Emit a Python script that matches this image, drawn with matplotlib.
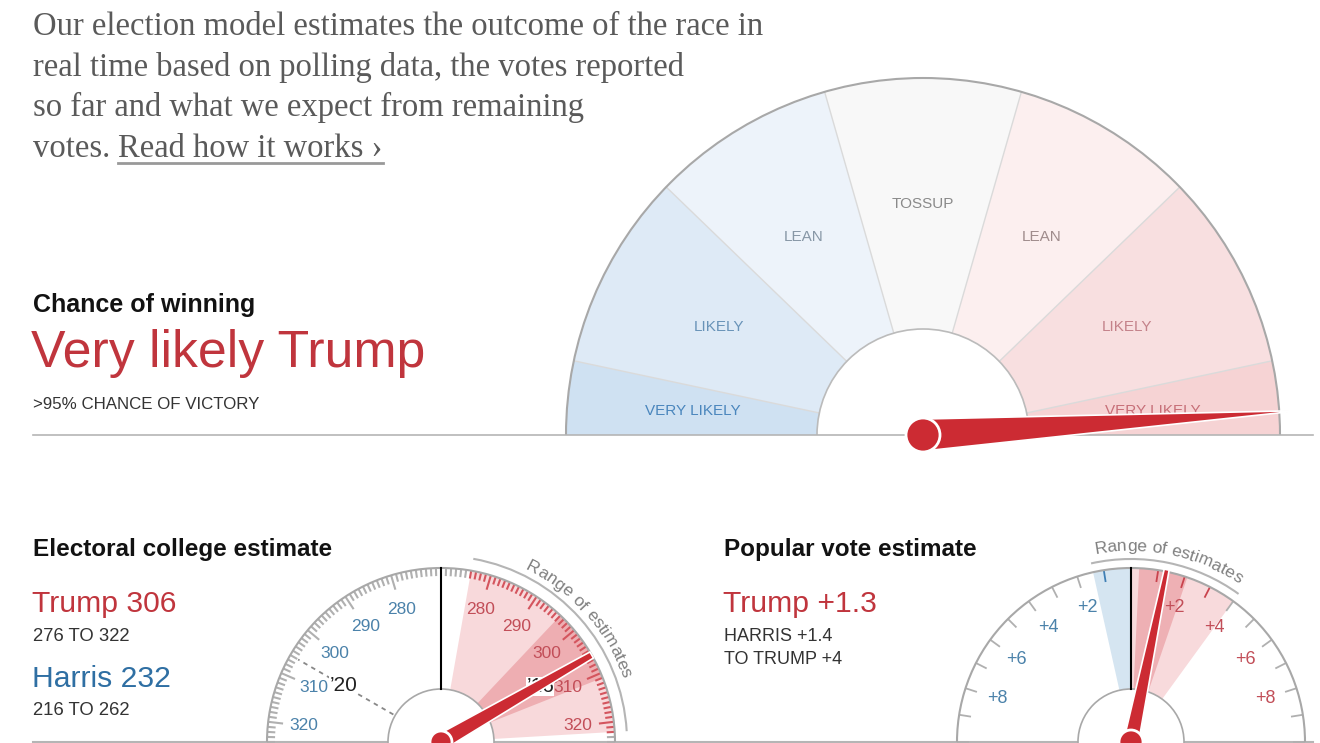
import numpy as np
import matplotlib
matplotlib.use('Agg')
import matplotlib.pyplot as plt
from matplotlib.patches import Wedge, Circle, Polygon, Arc
from matplotlib.font_manager import FontProperties

W, H = 1320, 743
SANS = 'Liberation Sans'
SERIF = 'Liberation Serif'

# chance of winning gauge (bands from Harris side to Trump side)
chance_labels = ['VERY LIKELY', 'LIKELY', 'LEAN', 'TOSSUP', 'LEAN', 'LIKELY', 'VERY LIKELY']
chance_edges = [180, 168, 136, 106, 74, 44, 12, 0]
chance_fill = ['#cfe1f2', '#deeaf6', '#edf3fa', '#f8f8f8', '#fcefef', '#f8dfe0', '#f6d3d4']
chance_txt = ['#4a86bd', '#6893b8', '#8797a6', '#8a8a8a', '#a08c8c', '#c4828a', '#c76f78']
chance_needle = 3.7   # degrees above horizontal, Trump side

# electoral college
ev_mid = 270
ev_span = 54
ev_ticklabels = [280, 290, 300, 310, 320]
trump_ev = 306
trump_ev_range = (276, 322)
trump_ev_core = (296, 311)
harris_ev = 232
harris_ev_range = (216, 262)
ev_2020 = 306   # Harris side
ev_2016 = 304   # Trump side

# popular vote margin (positive = Trump)
pv_span = 10
pv_ticklabels = [2, 4, 6, 8]
trump_pv = 1.3
pv_range = (-1.4, 4.0)
pv_core = (0.3, 2.1)

RED = '#c0353d'
BLUE = '#2f6fa3'
NEEDLE = '#cc2b33'
GRAY = '#a8a8a8'


def Y(y):
    return H - y


def pol(c, r, th):
    t = np.radians(th)
    return c[0] + r * np.cos(t), c[1] + r * np.sin(t)


def needle(ax, c, th, length, b0, b1, z=6):
    t = np.radians(th)
    d = np.array([np.cos(t), np.sin(t)])
    p = np.array([-d[1], d[0]])
    c = np.array(c)
    tip = c + d * length
    pts = [c + p * b0, tip + p * b1, tip - p * b1, c - p * b0]
    ax.add_patch(Polygon(pts, closed=True, fc=NEEDLE, ec='white', lw=1.2, zorder=z))


fig = plt.figure(figsize=(W / 100, H / 100), dpi=100)
ax = fig.add_axes([0, 0, 1, 1])
ax.set_xlim(0, W)
ax.set_ylim(0, H)
ax.axis('off')
renderer = fig.canvas.get_renderer()


def twidth(s, size, family=SANS):
    prop = FontProperties(family=family, size=size)
    return renderer.get_text_width_height_descent(s, prop, ismath=False)[0]


def curved(c, r, mid, s, size, color):
    total = twidth(s, size)
    for i, ch in enumerate(s):
        if ch == ' ':
            continue
        d = twidth(s[:i], size) + twidth(ch, size) / 2 - total / 2
        th = mid - np.degrees(d / r)
        x, y = pol(c, r, th)
        ax.text(x, y, ch, rotation=th - 90, rotation_mode='anchor', ha='center',
                va='baseline', fontsize=size, color=color, family=SANS, zorder=4)


# ---- intro text ----
intro = ["Our election model estimates the outcome of the race in",
         "real time based on polling data, the votes reported",
         "so far and what we expect from remaining"]
for line, yb in zip(intro, [35, 76, 116]):
    ax.text(33, Y(yb), line, fontsize=23.5, family=SERIF, color='#5a5a5a', va='baseline')
t = ax.text(33, Y(157), 'votes.', fontsize=23.5, family=SERIF, color='#5a5a5a', va='baseline')
x1 = t.get_window_extent(renderer).x1 + twidth(' ', 23.5, SERIF)
lk = ax.text(x1, Y(157), 'Read how it works \u203a', fontsize=23.5, family=SERIF,
             color='#5a5a5a', va='baseline')
bb = lk.get_window_extent(renderer)
ax.plot([bb.x0, bb.x1], [Y(163), Y(163)], color='#999999', lw=2)

# ---- chance of winning ----
ax.text(33, Y(312), 'Chance of winning', fontsize=18, weight='bold', family=SANS, color='#121212')
ax.text(31, Y(367), 'Very likely Trump', fontsize=37.3, family=SANS, color=RED)
ax.text(33, Y(409), '>95% CHANCE OF VICTORY', fontsize=12.2, family=SANS, color='#333333')

cm = (923, Y(435))
R, r0 = 357, 106
for i, lab in enumerate(chance_labels):
    a2, a1 = chance_edges[i], chance_edges[i + 1]
    ax.add_patch(Wedge(cm, R, a1, a2, fc=chance_fill[i], ec='none', zorder=1))
    mid = (a1 + a2) / 2
    x, y = pol(cm, 231, mid)
    ax.text(x, y, lab, ha='center', va='center', fontsize=11, family=SANS,
            color=chance_txt[i], zorder=3)
for a in chance_edges[1:-1]:
    xa, ya = pol(cm, r0, a)
    xb, yb = pol(cm, R, a)
    ax.plot([xa, xb], [ya, yb], color='#dadada', lw=1, zorder=2)
ax.add_patch(Arc(cm, 2 * R, 2 * R, theta1=0, theta2=180, color=GRAY, lw=1.5, zorder=2))
ax.add_patch(Wedge(cm, r0, 0, 180, fc='white', ec='none', zorder=2))
ax.add_patch(Arc(cm, 2 * r0, 2 * r0, theta1=0, theta2=180, color='#bbbbbb', lw=1.2, zorder=2))
ax.plot([33, 1313], [cm[1], cm[1]], color='#b5b5b5', lw=1.2, zorder=2)
needle(ax, cm, chance_needle, 366, 16, 0.5)
ax.add_patch(Circle(cm, 17, fc=NEEDLE, ec='white', lw=2, zorder=7))

# ---- electoral college ----
ax.text(33, Y(556), 'Electoral college estimate', fontsize=17.5, weight='bold', family=SANS, color='#121212')
ax.text(32, Y(612), 'Trump %d' % trump_ev, fontsize=21.7, family=SANS, color=RED)
ax.text(33, Y(641), '%d TO %d' % trump_ev_range, fontsize=13.3, family=SANS, color='#333333')
ax.text(32, Y(687), 'Harris %d' % harris_ev, fontsize=21.7, family=SANS, color=BLUE)
ax.text(33, Y(715), '%d TO %d' % harris_ev_range, fontsize=13.3, family=SANS, color='#333333')

ce = (441, Y(742))
Re, re0 = 174, 53


def ev_ang(v, side):
    return 90 - side * (v - ev_mid) * 90 / ev_span


ax.add_patch(Wedge(ce, Re, ev_ang(trump_ev_range[1], 1), ev_ang(trump_ev_range[0], 1),
                   fc='#f8d9db', ec='none', zorder=1))
ax.add_patch(Wedge(ce, Re, ev_ang(trump_ev_core[1], 1), ev_ang(trump_ev_core[0], 1),
                   fc='#eeaeb2', ec='none', zorder=1))
for v in range(ev_mid + 1, ev_mid + ev_span + 1):
    ln = 15 if v % 10 == 0 else 8
    for side in (-1, 1):
        a = ev_ang(v, side)
        col = '#d4555e' if (side == 1 and trump_ev_range[0] <= v <= trump_ev_range[1]) else '#b0b0b0'
        xa, ya = pol(ce, Re - ln, a)
        xb, yb = pol(ce, Re, a)
        ax.plot([xa, xb], [ya, yb], color=col, lw=1.5, zorder=3, solid_capstyle='butt')
for v in ev_ticklabels:
    for side, col in ((-1, '#4b82aa'), (1, '#c24e58')):
        x, y = pol(ce, 138, ev_ang(v, side))
        ax.text(x, y, str(v), ha='center', va='center', fontsize=12.5, family=SANS, color=col, zorder=4)
ax.add_patch(Arc(ce, 2 * Re, 2 * Re, theta1=0, theta2=180, color=GRAY, lw=1.5, zorder=3))
ax.add_patch(Circle(ce, re0, fc='white', ec=GRAY, lw=1.2, zorder=3))
x0, y0 = pol(ce, re0, 90)
x1_, y1_ = pol(ce, Re, 90)
ax.plot([x0, x1_], [y0, y1_], color='black', lw=1.5, zorder=4)
# 2020 marker
a20 = ev_ang(ev_2020, -1)
xa, ya = pol(ce, re0 + 2, a20)
xb, yb = pol(ce, 165, a20)
ax.plot([xa, xb], [ya, yb], color='#888888', lw=1.3, ls=(0, (2.5, 2.5)), zorder=2)
x, y = pol(ce, 113, a20)
ax.text(x, y, "\u201920", ha='center', va='center', fontsize=15, family=SANS, color='#222222',
        zorder=4, bbox=dict(fc='white', ec='none', pad=0))
x, y = pol(ce, 114, ev_ang(ev_2016, 1) - 4)
ax.text(x, y, "\u201916", ha='center', va='center', fontsize=15, family=SANS, color='#222222',
        zorder=4, bbox=dict(fc='white', ec='none', pad=0))
# range arc + label
ax.add_patch(Arc(ce, 2 * 186, 2 * 186, theta1=ev_ang(trump_ev_range[1], 1),
                 theta2=ev_ang(trump_ev_range[0], 1), color='#b5b5b5', lw=1.5, zorder=3))
curved(ce, 192, (ev_ang(trump_ev_range[0], 1) + ev_ang(trump_ev_range[1], 1)) / 2,
       'Range of estimates', 12.5, '#808080')
needle(ax, ce, ev_ang(trump_ev, 1), 174, 8, 3.5)
ax.add_patch(Circle(ce, 11, fc=NEEDLE, ec='white', lw=2, zorder=7))

# ---- popular vote ----
ax.text(724, Y(556), 'Popular vote estimate', fontsize=17.5, weight='bold', family=SANS, color='#121212')
ax.text(723, Y(612), 'Trump +%.1f' % trump_pv, fontsize=21.7, family=SANS, color=RED)
ax.text(724, Y(641), 'HARRIS +%.1f' % -pv_range[0], fontsize=13, family=SANS, color='#333333')
ax.text(724, Y(664), 'TO TRUMP +%g' % pv_range[1], fontsize=13, family=SANS, color='#333333')

cp = (1131, Y(742))
Rp, rp0 = 174, 53


def pv_ang(m):
    return 90 - m * 90 / pv_span


ax.add_patch(Wedge(cp, Rp, pv_ang(0), pv_ang(pv_range[0]), fc='#d5e5f1', ec='none', zorder=1))
ax.add_patch(Wedge(cp, Rp, pv_ang(pv_range[1]), pv_ang(0), fc='#f8dadc', ec='none', zorder=1))
ax.add_patch(Wedge(cp, Rp, pv_ang(pv_core[1]), pv_ang(pv_core[0]), fc='#eeb0b4', ec='none', zorder=1))
for m in range(1, pv_span + 1):
    for side in (-1, 1):
        a = pv_ang(side * m)
        if side == -1:
            col = '#3f7fb5' if m <= -pv_range[0] else '#b0b0b0'
        else:
            col = '#c9434d' if m <= pv_range[1] - 0.5 else '#b0b0b0'
        xa, ya = pol(cp, Rp - 12, a)
        xb, yb = pol(cp, Rp, a)
        ax.plot([xa, xb], [ya, yb], color=col, lw=1.3, zorder=3, solid_capstyle='butt')
for m in pv_ticklabels:
    for side, col in ((-1, '#4b82aa'), (1, '#c24e58')):
        x, y = pol(cp, 141, pv_ang(side * m))
        ax.text(x, y, '+%d' % m, ha='center', va='center', fontsize=13, family=SANS, color=col, zorder=4)
ax.add_patch(Arc(cp, 2 * Rp, 2 * Rp, theta1=0, theta2=180, color=GRAY, lw=1.5, zorder=3))
ax.add_patch(Circle(cp, rp0, fc='white', ec=GRAY, lw=1.2, zorder=3))
x0, y0 = pol(cp, rp0, 90)
x1_, y1_ = pol(cp, Rp, 90)
ax.plot([x0, x1_], [y0, y1_], color='black', lw=1.5, zorder=4)
ax.add_patch(Arc(cp, 2 * 183, 2 * 183, theta1=pv_ang(pv_range[1]), theta2=pv_ang(pv_range[0]),
                 color='#b5b5b5', lw=1.5, zorder=3))
curved(cp, 191, (pv_ang(pv_range[0]) + pv_ang(pv_range[1])) / 2, 'Range of estimates', 12.5, '#808080')
needle(ax, cp, pv_ang(trump_pv), 176, 7.5, 2.5)
ax.add_patch(Circle(cp, 12, fc=NEEDLE, ec='white', lw=2, zorder=7))

ax.plot([33, 1313], [Y(742), Y(742)], color='#b5b5b5', lw=1.5, zorder=2)

fig.savefig('out.png', dpi=100)
